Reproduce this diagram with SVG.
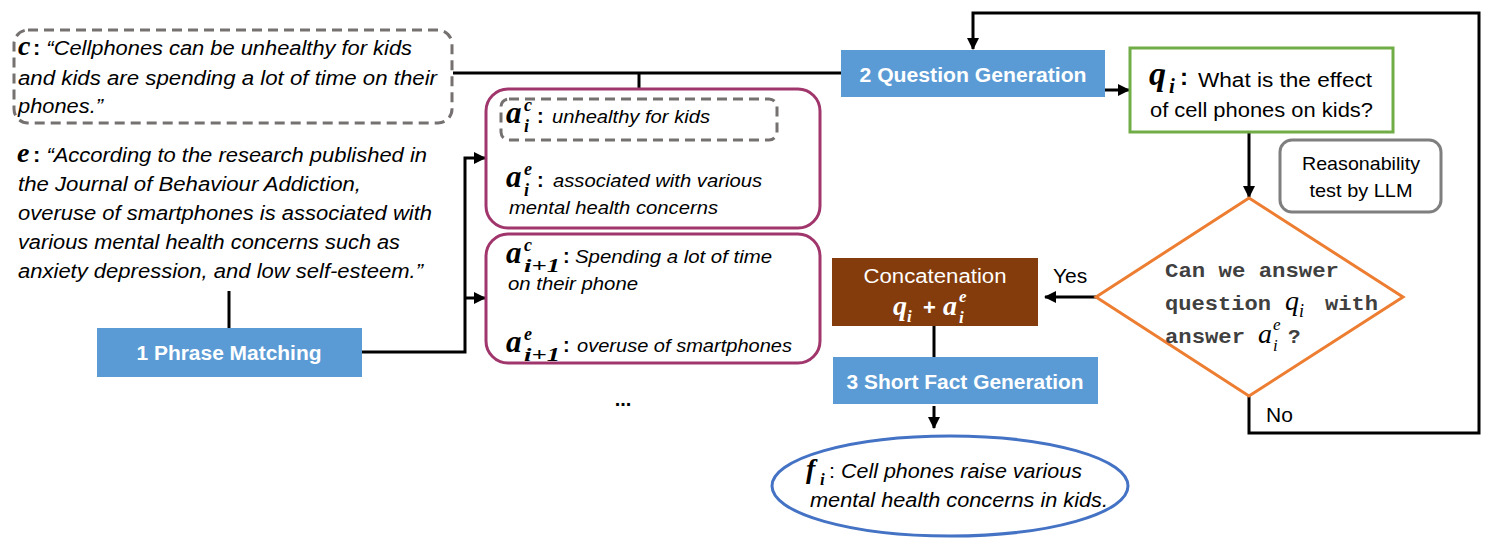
<svg xmlns="http://www.w3.org/2000/svg" width="1495" height="542" viewBox="0 0 1495 542">
<defs>
<marker id="ah" markerUnits="userSpaceOnUse" markerWidth="12" markerHeight="12" refX="11" refY="6" orient="auto">
<path d="M0,0 L12,6 L0,12 z" fill="#000"/>
</marker>
<style>
text{font-family:"Liberation Sans",Arial,sans-serif;fill:#000}
.it{font-style:italic}
.m{font-family:"Liberation Serif","DejaVu Serif",serif;font-style:italic;font-weight:bold}
.mi{font-family:"Liberation Serif","DejaVu Serif",serif;font-style:italic}
.w{fill:#fff}
.b{font-weight:bold}
.mono{font-family:"Liberation Mono","DejaVu Sans Mono",monospace;font-weight:bold;fill:#404040}
.blue{fill:#5B9BD5}
.conn{fill:none;stroke:#000;stroke-width:3}
.purple{fill:#fff;stroke:#A0366C;stroke-width:3}
.dash{fill:none;stroke:#767171;stroke-width:3;stroke-dasharray:10 6}
</style>
</defs>

<g id="connectors">
<path class="conn" d="M453,73 H841"/>
<path class="conn" d="M639,73 V99"/>
<path class="conn" d="M229,291 V328"/>
<path class="conn" d="M362,352 H465 V158 H485" marker-end="url(#ah)"/>
<path class="conn" d="M465,298 H485" marker-end="url(#ah)"/>
<path class="conn" d="M1105,90 H1129" marker-end="url(#ah)"/>
<path class="conn" d="M1249,132 V197" marker-end="url(#ah)"/>
<path class="conn" d="M1096,297 H1045" marker-end="url(#ah)"/>
<path class="conn" d="M934,326 V357"/>
<path class="conn" d="M934,406 V428" marker-end="url(#ah)"/>
<path class="conn" d="M1249,396 V433 H1479 V13 H973 V49" marker-end="url(#ah)"/>
</g>

<g id="context">
<rect class="dash" x="14" y="30" width="438" height="93" rx="14"/>
<text class="m" x="18" y="55" font-size="28">c</text>
<text class="it" x="33" y="55" font-size="20" textLength="379" lengthAdjust="spacingAndGlyphs"><tspan class="b" style="font-style:normal">:</tspan> “Cellphones can be unhealthy for kids</text>
<text class="it" x="18" y="85" font-size="20" textLength="419" lengthAdjust="spacingAndGlyphs">and kids are spending a lot of time on their</text>
<text class="it" x="18" y="113" font-size="20" textLength="85" lengthAdjust="spacingAndGlyphs">phones.”</text>
</g>

<g id="evidence">
<text class="m" x="17" y="162" font-size="28">e</text>
<text class="it" x="33" y="162" font-size="20" textLength="394" lengthAdjust="spacingAndGlyphs"><tspan class="b" style="font-style:normal">:</tspan> “According to the research published in</text>
<text class="it" x="18" y="191" font-size="20" textLength="343" lengthAdjust="spacingAndGlyphs">the Journal of Behaviour Addiction,</text>
<text class="it" x="18" y="220" font-size="20" textLength="414" lengthAdjust="spacingAndGlyphs">overuse of smartphones is associated with</text>
<text class="it" x="18" y="249" font-size="20" textLength="382" lengthAdjust="spacingAndGlyphs">various mental health concerns such as</text>
<text class="it" x="18" y="278" font-size="20" textLength="405" lengthAdjust="spacingAndGlyphs">anxiety depression, and low self-esteem.”</text>
</g>

<g id="phrase-matching">
<rect class="blue" x="97" y="328" width="265" height="49"/>
<text class="w b" x="229" y="360" font-size="20" text-anchor="middle" textLength="185" lengthAdjust="spacingAndGlyphs">1 Phrase Matching</text>
</g>

<g id="pair-i">
<rect class="purple" x="486" y="89" width="334" height="139" rx="22"/>
<rect class="dash" x="501" y="99" width="276" height="41" rx="8"/>
<text class="m" x="506" y="123" font-size="31">a</text>
<text class="m" x="524" y="111" font-size="18">c</text>
<text class="m" x="524" y="132" font-size="18">i</text>
<text class="b" x="537" y="123" font-size="20">:</text>
<text class="it" x="552" y="123" font-size="18" textLength="158" lengthAdjust="spacingAndGlyphs">unhealthy for kids</text>
<text class="m" x="506" y="187" font-size="31">a</text>
<text class="m" x="524" y="175" font-size="18">e</text>
<text class="m" x="524" y="196" font-size="18">i</text>
<text class="b" x="537" y="187" font-size="20">:</text>
<text class="it" x="553" y="187" font-size="18" textLength="209" lengthAdjust="spacingAndGlyphs">associated with various</text>
<text class="it" x="509" y="214" font-size="18" textLength="209" lengthAdjust="spacingAndGlyphs">mental health concerns</text>
</g>

<g id="pair-i1">
<rect class="purple" x="486" y="234" width="334" height="129" rx="22"/>
<text class="m" x="506" y="263" font-size="31">a</text>
<text class="m" x="524" y="251" font-size="18">c</text>
<text class="m" x="524" y="272" font-size="19" textLength="36" lengthAdjust="spacingAndGlyphs">i+1</text>
<text class="b" x="563" y="263" font-size="20">:</text>
<text class="it" x="575" y="263" font-size="18" textLength="197" lengthAdjust="spacingAndGlyphs">Spending a lot of time</text>
<text class="it" x="508" y="290" font-size="18" textLength="130" lengthAdjust="spacingAndGlyphs">on their phone</text>
<text class="m" x="506" y="352" font-size="31">a</text>
<text class="m" x="524" y="340" font-size="18">e</text>
<text class="m" x="524" y="361" font-size="19" textLength="36" lengthAdjust="spacingAndGlyphs">i+1</text>
<text class="b" x="563" y="352" font-size="20">:</text>
<text class="it" x="577" y="352" font-size="18" textLength="215" lengthAdjust="spacingAndGlyphs">overuse of smartphones</text>
</g>

<g id="ellipsis">
<text class="b" x="623" y="406" font-size="20" text-anchor="middle">...</text>
</g>

<g id="question-generation">
<rect class="blue" x="841" y="50" width="264" height="47"/>
<text class="w b" x="973" y="82" font-size="20" text-anchor="middle" textLength="227" lengthAdjust="spacingAndGlyphs">2 Question Generation</text>
</g>

<g id="question">
<rect x="1130" y="48" width="263" height="84" fill="#fff" stroke="#70AD47" stroke-width="3"/>
<text class="m" x="1149" y="85" font-size="34">q</text>
<text class="m" x="1169" y="93" font-size="21">i</text>
<text class="b" x="1180" y="85" font-size="24">:</text>
<text x="1198" y="87" font-size="20" textLength="174" lengthAdjust="spacingAndGlyphs">What is the effect</text>
<text x="1150" y="117" font-size="20" textLength="223" lengthAdjust="spacingAndGlyphs">of cell phones on kids?</text>
</g>

<g id="reasonability">
<rect x="1280" y="140" width="161" height="72" rx="12" fill="#fff" stroke="#7F7F7F" stroke-width="3"/>
<text x="1361" y="170" font-size="19" text-anchor="middle" textLength="118" lengthAdjust="spacingAndGlyphs">Reasonability</text>
<text x="1361" y="197" font-size="19" text-anchor="middle" textLength="103" lengthAdjust="spacingAndGlyphs">test by LLM</text>
</g>

<g id="decision">
<polygon points="1249,198 1403,297 1249,396 1096,297" fill="#fff" stroke="#ED7D31" stroke-width="3"/>
<text class="mono" x="1165" y="277" font-size="21" textLength="174" lengthAdjust="spacingAndGlyphs">Can we answer</text>
<text class="mono" x="1165" y="310" font-size="21" textLength="106" lengthAdjust="spacingAndGlyphs">question</text>
<text class="mi" x="1285" y="310" font-size="28" fill="#404040">q</text>
<text class="mi" x="1299" y="317" font-size="18" fill="#404040">i</text>
<text class="mono" x="1325" y="310" font-size="21" textLength="53" lengthAdjust="spacingAndGlyphs">with</text>
<text class="mono" x="1165" y="343" font-size="21" textLength="80" lengthAdjust="spacingAndGlyphs">answer</text>
<text class="mi" x="1258" y="343" font-size="28" fill="#404040">a</text>
<text class="mi" x="1273" y="330" font-size="17" fill="#404040">e</text>
<text class="mi" x="1273" y="351" font-size="17" fill="#404040">i</text>
<text class="mono" x="1288" y="343" font-size="21">?</text>
</g>

<g id="labels">
<text x="1053" y="283" font-size="21">Yes</text>
<text x="1266" y="422" font-size="21">No</text>
</g>

<g id="concatenation">
<rect x="832" y="258" width="206" height="68" fill="#843C0C"/>
<text class="w" x="935" y="283" font-size="20" text-anchor="middle" textLength="143" lengthAdjust="spacingAndGlyphs">Concatenation</text>
<text class="m w" x="893" y="315" font-size="28">q</text>
<text class="m w" x="907" y="322" font-size="17">i</text>
<text class="w b" x="923" y="315" font-size="22">+</text>
<text class="m w" x="943" y="315" font-size="28">a</text>
<text class="m w" x="959" y="302" font-size="17">e</text>
<text class="m w" x="959" y="323" font-size="17">i</text>
</g>

<g id="short-fact-generation">
<rect class="blue" x="833" y="357" width="265" height="47"/>
<text class="w b" x="965" y="389" font-size="20" text-anchor="middle" textLength="237" lengthAdjust="spacingAndGlyphs">3 Short Fact Generation</text>
</g>

<g id="fact">
<ellipse cx="950" cy="486" rx="178" ry="50" fill="#fff" stroke="#4472C4" stroke-width="3"/>
<text class="m" x="806" y="478" font-size="28">f</text>
<text class="m" x="820" y="485" font-size="17">i</text>
<text class="it" x="829" y="478" font-size="20" textLength="253" lengthAdjust="spacingAndGlyphs"><tspan style="font-style:normal">:</tspan> Cell phones raise various</text>
<text class="it" x="810" y="507" font-size="20" textLength="298" lengthAdjust="spacingAndGlyphs">mental health concerns in kids.</text>
</g>
</svg>
